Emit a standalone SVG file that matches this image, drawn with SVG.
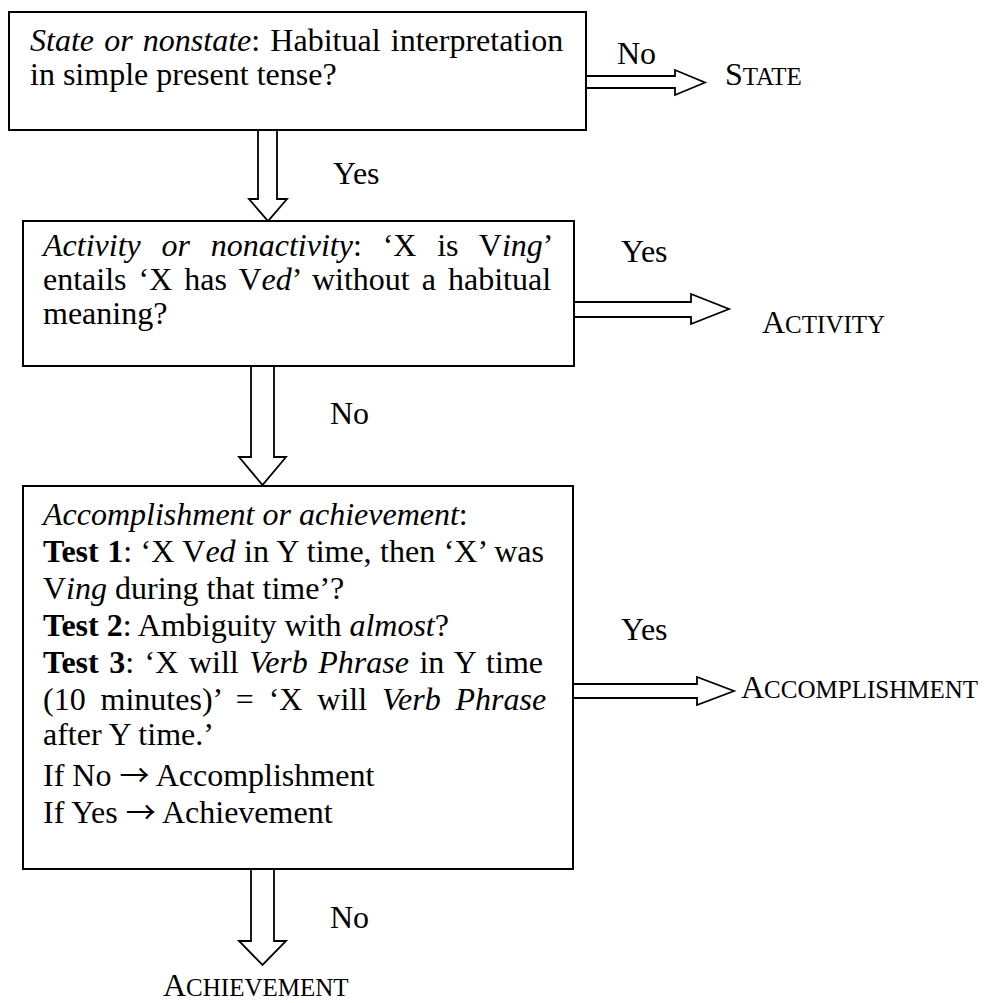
<svg xmlns="http://www.w3.org/2000/svg" width="1006" height="1003" viewBox="0 0 1006 1003">
<style>
text{font-family:"Liberation Serif","Times New Roman",serif;font-size:32px;fill:#000}
.i{font-style:italic}
.b{font-weight:bold}
.sc{font-size:25px}
.ar{font-family:"Noto Sans CJK JP","DejaVu Sans",sans-serif;font-size:30px}
.box{fill:#fff;stroke:#000;stroke-width:2}
.arr{fill:#fff;stroke:#000;stroke-width:1.8;stroke-linejoin:miter}
</style>
<rect width="1006" height="1003" fill="#fff"/>
<g id="connectors">
<polygon class="arr" points="586,76 675,76 675,70 705,82.5 675,95 675,88 586,88"/>
<polygon class="arr" points="258,130 258,199 249,199 268,221 287,199 277,199 277,130"/>
<polygon class="arr" points="574,302 691,302 691,294 729,309 691,324 691,317 574,317"/>
<polygon class="arr" points="251,366 251,457 239,457 262.5,485 286,457 274,457 274,366"/>
<polygon class="arr" points="573,684 697,684 697,677 734,691 697,705 697,698 573,698"/>
<polygon class="arr" points="251,869 251,941 239,941 262.5,965 286,941 274,941 274,869"/>
<text x="617" y="64">No</text>
<text x="333" y="184">Yes</text>
<text x="621" y="262">Yes</text>
<text x="330" y="424">No</text>
<text x="621" y="640">Yes</text>
<text x="330" y="928">No</text>
</g>
<g id="node-state-test">
<rect class="box" x="9" y="12" width="577" height="118"/>
<text x="30" y="51" word-spacing="2.2"><tspan class="i">State or nonstate</tspan>: Habitual interpretation</text>
<text x="30" y="85">in simple present tense?</text>
</g>
<g id="node-activity-test">
<rect class="box" x="23" y="221" width="551" height="145"/>
<text x="43" y="256" word-spacing="12.8"><tspan class="i">Activity or nonactivity</tspan>: ‘X is V<tspan class="i">ing</tspan>’</text>
<text x="43" y="290" word-spacing="4">entails ‘X has V<tspan class="i">ed</tspan>’ without a habitual</text>
<text x="43" y="324">meaning?</text>
</g>
<g id="node-accomplishment-test">
<rect class="box" x="23" y="486" width="550" height="383"/>
<text x="43" y="525"><tspan class="i">Accomplishment or achievement</tspan>:</text>
<text x="43" y="562" word-spacing="0.5"><tspan class="b">Test 1</tspan>: ‘X V<tspan class="i">ed</tspan> in Y time, then ‘X’ was</text>
<text x="43" y="599">V<tspan class="i">ing</tspan> during that time’?</text>
<text x="43" y="636"><tspan class="b">Test 2</tspan>: Ambiguity with <tspan class="i">almost</tspan>?</text>
<text x="43" y="673" word-spacing="2.5"><tspan class="b">Test 3</tspan>: ‘X will <tspan class="i">Verb Phrase</tspan> in Y time</text>
<text x="43" y="710" word-spacing="6.9">(10 minutes)’ = ‘X will <tspan class="i">Verb Phrase</tspan></text>
<text x="43" y="745">after Y time.’</text>
<text x="43" y="786">If No <tspan class="ar">→</tspan> Accomplishment</text>
<text x="43" y="823">If Yes <tspan class="ar">→</tspan> Achievement</text>
</g>
<g id="node-state">
<text x="725" y="85">S<tspan class="sc">TATE</tspan></text>
</g>
<g id="node-activity">
<text x="762" y="333">A<tspan class="sc">CTIVITY</tspan></text>
</g>
<g id="node-accomplishment">
<text x="741" y="698">A<tspan class="sc">CCOMPLISHMENT</tspan></text>
</g>
<g id="node-achievement">
<text x="163" y="996">A<tspan class="sc">CHIEVEMENT</tspan></text>
</g>
</svg>
